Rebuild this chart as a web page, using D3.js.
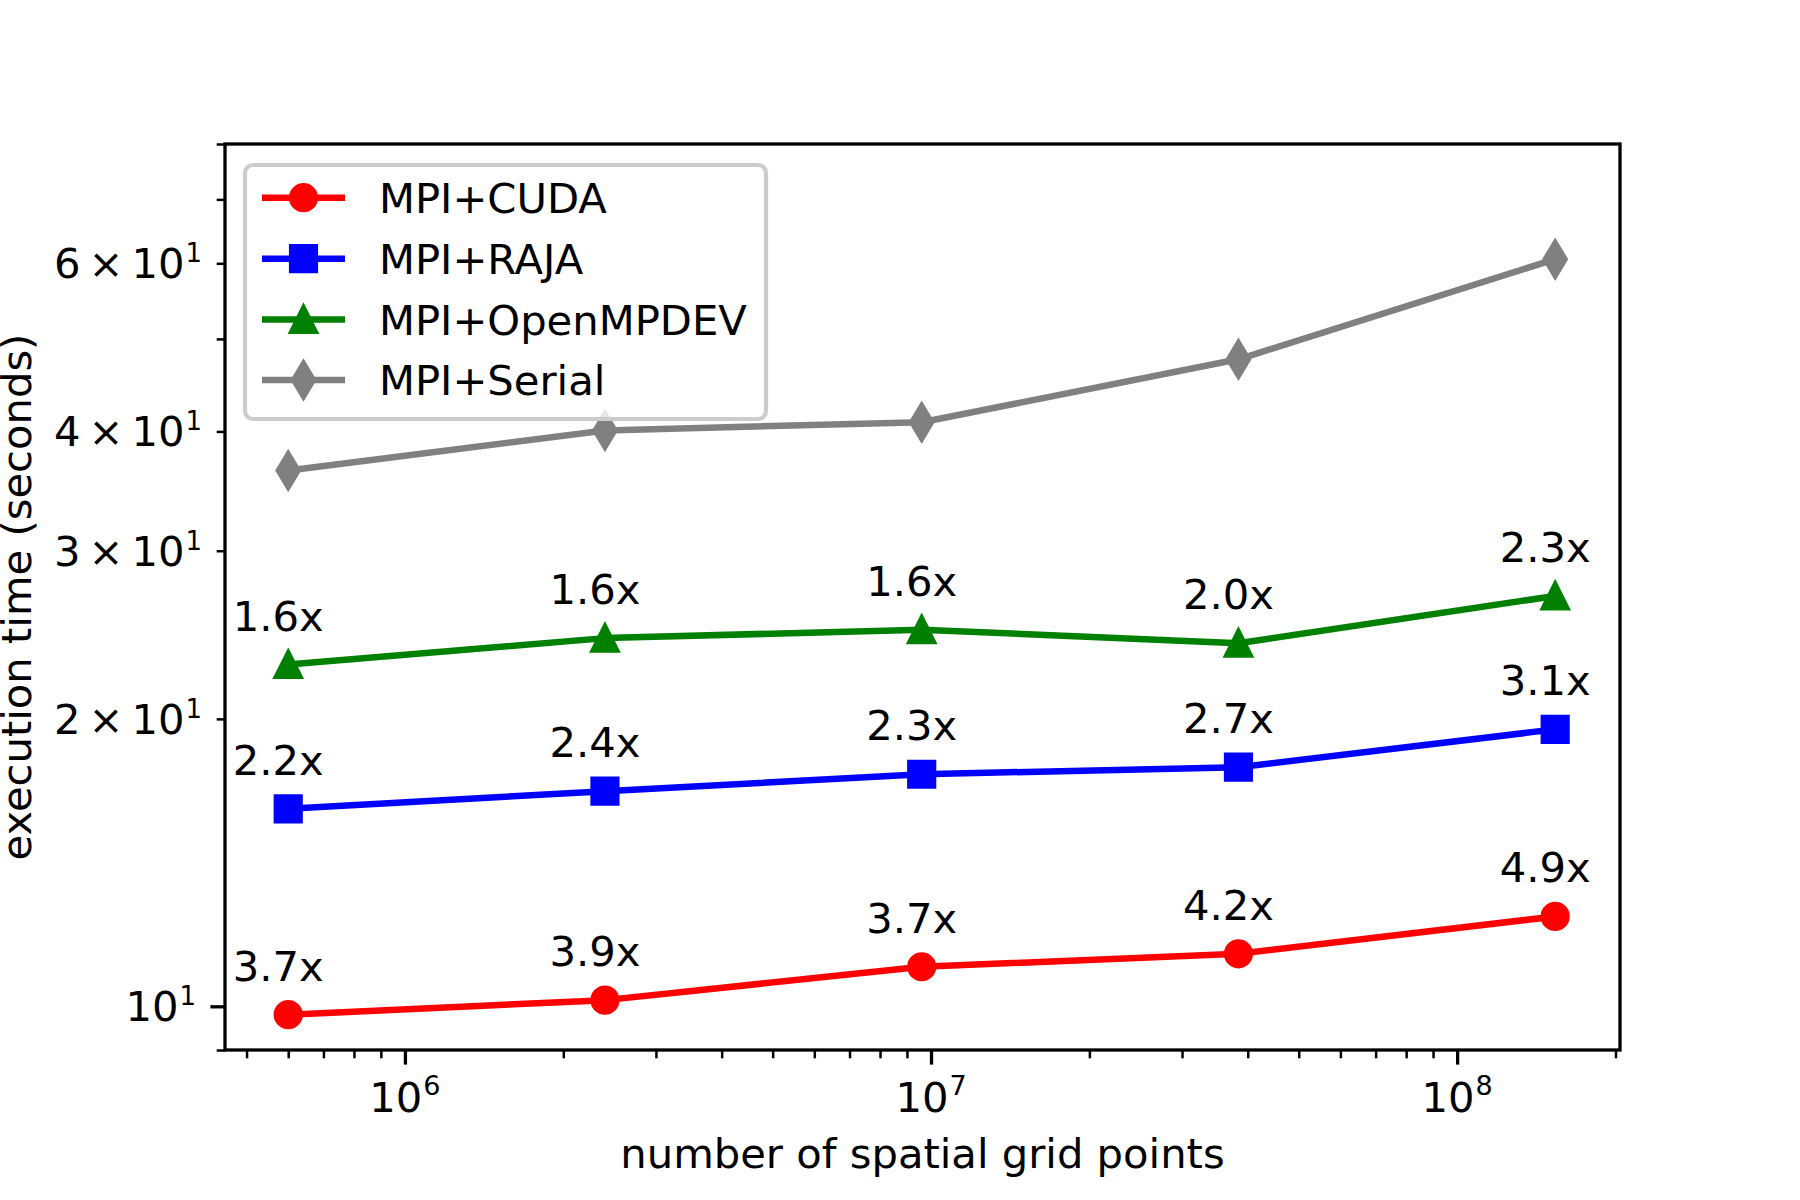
<!DOCTYPE html>
<html>
<head>
<meta charset="utf-8">
<script src="https://cdn.jsdelivr.net/npm/d3@7"></script>
<style>
  html, body { margin: 0; padding: 0; background: #fff; }
  svg { display: block; font-family: "DejaVu Sans", sans-serif; }
</style>
</head>
<body>
<svg id="chart" width="1800" height="1200"></svg>
<script>
'use strict';

// grid sizes (number of spatial grid points)
var gridPoints = [6e5, 2.4e6, 9.6e6, 3.84e7, 1.536e8];

// execution time in seconds
var cudaTimes   = [9.8, 10.15, 11.0, 11.35, 12.42];
var rajaTimes   = [16.1, 16.8, 17.5, 17.8, 19.5];
var openmpTimes = [22.8, 24.3, 24.8, 24.0, 26.9];
var serialTimes = [36.4, 40.1, 40.9, 47.6, 60.6];

// speedup labels over MPI+Serial
var cudaSpeedup   = ['3.7x', '3.9x', '3.7x', '4.2x', '4.9x'];
var rajaSpeedup   = ['2.2x', '2.4x', '2.3x', '2.7x', '3.1x'];
var openmpSpeedup = ['1.6x', '1.6x', '1.6x', '2.0x', '2.3x'];

var seriesNames = ['MPI+CUDA', 'MPI+RAJA', 'MPI+OpenMPDEV', 'MPI+Serial'];

var yMajorTicks = [10];
var yLabelledMinor = [20, 30, 40, 60];
var yLabelMant = ['2', '3', '4', '6'];
var xMajorTicks = [1e6, 1e7, 1e8];
var xMajorExp = ['6', '7', '8'];

var FS = 41.7;          // 10pt at 300dpi
var LW = 6.5;
var MS = 25;            // markersize 6pt
var MEW = 4.17;

var svg = d3.select('#chart');
var axLeft = 225, axRight = 1620, axTop = 144, axBottom = 1050;

var x = d3.scaleLog().domain([Math.pow(10, 5.658), Math.pow(10, 8.3096)]).range([axLeft, axRight]);
var y = d3.scaleLog().domain([9, 80]).range([axBottom, axTop]);

// marker shapes in the style of matplotlib
var shapes = {
    circle: {draw: function(ctx, s) { var r = s / 2; ctx.moveTo(r, 0); ctx.arc(0, 0, r, 0, 2 * Math.PI); }},
    square: {draw: function(ctx, s) { var h = s / 2; ctx.rect(-h, -h, s, s); }},
    triangle: {draw: function(ctx, s) {
        var h = s / 2; ctx.moveTo(0, -h); ctx.lineTo(h, h); ctx.lineTo(-h, h); ctx.closePath();
    }},
    thinDiamond: {draw: function(ctx, s) {
        var h = s * Math.SQRT1_2, w = h * 0.6;
        ctx.moveTo(0, -h); ctx.lineTo(w, 0); ctx.lineTo(0, h); ctx.lineTo(-w, 0); ctx.closePath();
    }}
};

var series = [
    {name: seriesNames[0], values: cudaTimes, color: '#ff0000', shape: shapes.circle, labels: cudaSpeedup},
    {name: seriesNames[1], values: rajaTimes, color: '#0000ff', shape: shapes.square, labels: rajaSpeedup},
    {name: seriesNames[2], values: openmpTimes, color: '#008000', shape: shapes.triangle, labels: openmpSpeedup},
    {name: seriesNames[3], values: serialTimes, color: '#808080', shape: shapes.thinDiamond, labels: null}
];

// minor tick values
var xMinor = [];
[1e5, 1e6, 1e7, 1e8].forEach(function(d) {
    for (var k = 2; k <= 9; k++) {
        var v = d * k;
        if (v >= x.domain()[0] && v <= x.domain()[1]) xMinor.push(v);
    }
});
var yMinor = [9, 20, 30, 40, 50, 60, 70, 80];

// axes (ticks only, labels drawn separately)
function styleAxis(g, w) {
    g.select('.domain').remove();
    g.selectAll('.tick line').attr('stroke', '#000').attr('stroke-width', w);
    g.selectAll('.tick text').remove();
}

svg.append('g').attr('transform', 'translate(0,' + axBottom + ')')
    .call(d3.axisBottom(x).tickValues(xMinor).tickSize(8.3).tickFormat(''))
    .call(styleAxis, 2.5);
svg.append('g').attr('transform', 'translate(0,' + axBottom + ')')
    .call(d3.axisBottom(x).tickValues(xMajorTicks).tickSize(14.6).tickFormat(''))
    .call(styleAxis, 3.3);
svg.append('g').attr('transform', 'translate(' + axLeft + ',0)')
    .call(d3.axisLeft(y).tickValues(yMinor).tickSize(8.3).tickFormat(''))
    .call(styleAxis, 2.5);
svg.append('g').attr('transform', 'translate(' + axLeft + ',0)')
    .call(d3.axisLeft(y).tickValues(yMajorTicks).tickSize(14.6).tickFormat(''))
    .call(styleAxis, 3.3);

// x tick labels 10^n
xMajorTicks.forEach(function(v, i) {
    var t = svg.append('text')
        .attr('x', x(v)).attr('y', 1112)
        .attr('text-anchor', 'middle')
        .attr('font-size', FS);
    t.append('tspan').text('10');
    t.append('tspan').attr('font-size', 27).attr('dx', 1).attr('dy', -17).text(xMajorExp[i]);
});

// y tick labels (mathtext-like spacing around the times sign)
yMajorTicks.forEach(function(v) {
    var t = svg.append('text')
        .attr('x', 196).attr('y', y(v) + 15)
        .attr('text-anchor', 'end')
        .attr('font-size', FS);
    t.append('tspan').text('10');
    t.append('tspan').attr('font-size', 26).attr('dx', 1).attr('dy', -16).text('1');
});
yLabelledMinor.forEach(function(v, i) {
    var t = svg.append('text')
        .attr('x', 202).attr('y', y(v) + 15)
        .attr('text-anchor', 'end')
        .attr('font-size', FS);
    t.append('tspan').text(yLabelMant[i]);
    t.append('tspan').attr('dx', 8).text('\u00d7');
    t.append('tspan').attr('dx', 8).text('10');
    t.append('tspan').attr('font-size', 26).attr('dx', 1).attr('dy', -16).text('1');
});

// axis titles
svg.append('text')
    .attr('x', (axLeft + axRight) / 2).attr('y', 1168)
    .attr('text-anchor', 'middle')
    .attr('font-size', FS)
    .text('number of spatial grid points');
svg.append('text')
    .attr('transform', 'translate(31,' + ((axTop + axBottom) / 2) + ') rotate(-90)')
    .attr('text-anchor', 'middle')
    .attr('font-size', FS)
    .text('execution time (seconds)');

// data lines + markers
var plot = svg.append('g');
var line = d3.line()
    .x(function(d) { return x(d[0]); })
    .y(function(d) { return y(d[1]); });

series.forEach(function(s) {
    var pts = gridPoints.map(function(g, i) { return [g, s.values[i]]; });
    plot.append('path')
        .datum(pts)
        .attr('d', line)
        .attr('fill', 'none')
        .attr('stroke', s.color)
        .attr('stroke-width', LW)
        .attr('stroke-linejoin', 'round')
        .attr('stroke-linecap', 'butt');
    plot.selectAll(null)
        .data(pts)
        .enter().append('path')
        .attr('transform', function(d) { return 'translate(' + x(d[0]) + ',' + y(d[1]) + ')'; })
        .attr('d', d3.symbol().type(s.shape).size(MS))
        .attr('fill', s.color)
        .attr('stroke', s.color)
        .attr('stroke-width', MEW);
    if (s.labels) {
        plot.selectAll(null)
            .data(pts)
            .enter().append('text')
            .attr('x', function(d) { return x(d[0]) - 10; })
            .attr('y', function(d) { return y(d[1]) - 34; })
            .attr('text-anchor', 'middle')
            .attr('font-size', FS)
            .text(function(d, i) { return s.labels[i]; });
    }
});

// frame
svg.append('rect')
    .attr('x', axLeft).attr('y', axTop)
    .attr('width', axRight - axLeft).attr('height', axBottom - axTop)
    .attr('fill', 'none')
    .attr('stroke', '#000')
    .attr('stroke-width', 3.3);

// legend
var legend = svg.append('g');
legend.append('rect')
    .attr('x', 245).attr('y', 165)
    .attr('width', 766 - 245).attr('height', 419 - 165)
    .attr('rx', 8).attr('ry', 8)
    .attr('fill', '#fff').attr('fill-opacity', 0.8)
    .attr('stroke', '#cccccc')
    .attr('stroke-width', 4.17);

var rowY = [197.7, 258.7, 319.5, 380];
series.forEach(function(s, i) {
    var g = legend.append('g').attr('transform', 'translate(0,' + rowY[i] + ')');
    g.append('line')
        .attr('x1', 262).attr('x2', 345)
        .attr('y1', 0).attr('y2', 0)
        .attr('stroke', s.color)
        .attr('stroke-width', LW);
    g.append('path')
        .attr('transform', 'translate(303.5,0)')
        .attr('d', d3.symbol().type(s.shape).size(MS))
        .attr('fill', s.color)
        .attr('stroke', s.color)
        .attr('stroke-width', MEW);
    g.append('text')
        .attr('x', 379).attr('y', 15)
        .attr('font-size', FS)
        .text(s.name);
});
</script>
</body>
</html>
